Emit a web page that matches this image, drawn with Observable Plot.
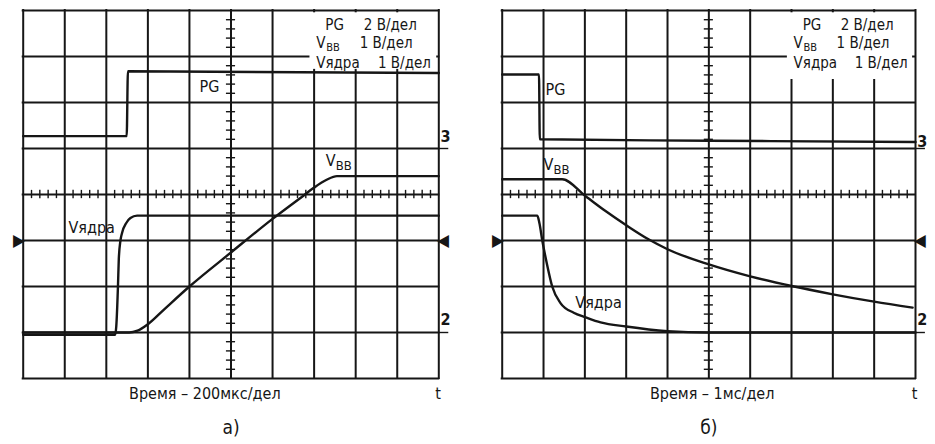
<!DOCTYPE html>
<html><head><meta charset="utf-8">
<script src="https://cdn.jsdelivr.net/npm/d3@7"></script>
<script src="https://cdn.jsdelivr.net/npm/@observablehq/plot@0.6"></script>
<style>
html,body{margin:0;padding:0;background:#fff;}
#wrap{position:relative;width:935px;height:444px;overflow:hidden;background:#fff;}
#wrap svg{position:absolute;top:0;}
</style></head><body><div id="wrap"></div>
<script>
// ---- data (time in divisions, voltage in divisions) ----
const gridX = [0,1,2,3,4,5,6,7,8,9,10];
const gridY = [-4,-3,-2,-1,0,1,2,3,4];
const legendNames = ["PG", "V", "Vядра"];
const legendSub = "BB";
const legendScales = ["2 В/дел", "1 В/дел", "1 В/дел"];

// panel а) 200 мкс/дел
const pgA   = [[0,1.27],[2.49,1.27],[2.52,2.68],[10,2.64]];
const vbbA  = [[0,-3.0],[2.55,-3.0],[2.75,-2.96],[3.0,-2.82],[3.4,-2.49],[4.0,-2.0],[5.0,-1.26],[6.0,-0.53],[6.75,-0.02],[7.0,0.15],[7.3,0.32],[7.55,0.40],[10,0.40]];
const coreA = [[0,-3.05],[2.21,-3.05],[2.24,-2.86],[2.28,-2.0],[2.30,-1.41],[2.34,-1.0],[2.38,-0.83],[2.48,-0.62],[2.58,-0.51],[2.74,-0.46],[10,-0.46]];
const captionA = "Время – 200мкс/дел";

// panel б) 1 мс/дел
const pgB   = [[0,2.61],[0.89,2.61],[0.91,1.2],[5.0,1.17],[10,1.14]];
const vbbB  = [[0,0.33],[1.45,0.33],[2.02,-0.04],[2.5,-0.36],[3.02,-0.68],[3.55,-0.98],[4.0,-1.19],[5.0,-1.52],[6.0,-1.78],[7.0,-1.99],[8.0,-2.17],[9.0,-2.33],[9.93,-2.46]];
const coreB = [[0,-0.46],[0.85,-0.46],[0.9,-0.62],[0.97,-1.0],[1.08,-1.5],[1.21,-2.0],[1.41,-2.36],[1.73,-2.57],[2.02,-2.67],[2.38,-2.78],[3.0,-2.87],[4.0,-2.97],[5.0,-3.0],[10,-3.0]];
const captionB = "Время – 1мс/дел";

const FONT = '"Liberation Sans Narrow","DejaVu Sans Condensed","Roboto Condensed",sans-serif';
const INK = "#161616";

function panel(o) {
  const minorX = d3.range(0, 10.001, 0.2).filter(v => Math.abs(v - Math.round(v)) > 1e-6);
  const minorY = d3.range(-4, 4.001, 0.2).filter(v => Math.abs(v - Math.round(v)) > 1e-6);
  const T = (txt, opt) => Plot.text([txt], {text: d => d, fill: INK, ...opt});
  const line = (data) => Plot.line(data, {x: d => d[0], y: d => d[1], curve: "monotone-x", stroke: INK, strokeWidth: 2.4, strokeLinejoin: "round"});
  const svg = Plot.plot({
    width: o.width, height: 444,
    marginLeft: o.mL, marginRight: o.mR, marginTop: 10, marginBottom: 66,
    x: {domain: [0, 10], axis: null},
    y: {domain: [-4, 4], axis: null},
    style: {fontFamily: FONT, background: "white", overflow: "visible"},
    marks: [
      Plot.ruleX(gridX, {stroke: INK, strokeWidth: 2, strokeLinecap: "square"}),
      Plot.ruleY(gridY, {stroke: INK, strokeWidth: 2, strokeLinecap: "square"}),
      Plot.ruleX(minorX, {y1: -0.09, y2: 0.09, stroke: INK, strokeWidth: 1.4}),
      Plot.ruleY(minorY, {x1: 4.89, x2: 5.11, stroke: INK, strokeWidth: 1.4}),
      // white patch behind the scale legend
      Plot.rect([0], {x1: 6.9, x2: o.maskX2, y1: o.maskY1, y2: 3.95, fill: "white"}),
      // channel markers
      Plot.ruleY([1, -3], {x1: 10, x2: 10.24, stroke: INK, strokeWidth: 1.4}),
      T("3", {x: 10.04, y: o.m3y, textAnchor: "start", fontSize: 16, fontWeight: "bold"}),
      T("2", {x: 10.04, y: -2.72, textAnchor: "start", fontSize: 16, fontWeight: "bold"}),
      T("▶", {x: 0, y: -1, textAnchor: "end", fontSize: 17, dx: 1.5}),
      T("◀", {x: 10, y: -1, textAnchor: "start", fontSize: 17, dx: -1.5}),
      // traces
      line(o.pg), line(o.vbb), line(o.core),
      // trace labels
      T("PG", {x: o.pgL[0], y: o.pgL[1], textAnchor: o.pgL[2], fontSize: 16}),
      T("V", {x: o.vbbL[0], y: o.vbbL[1], textAnchor: "start", fontSize: 16}),
      T(legendSub, {x: o.vbbL[0], dx: 10, y: o.vbbL[1] - 0.11, textAnchor: "start", fontSize: 13}),
      T("Vядра", {x: o.coreL[0], y: o.coreL[1], textAnchor: "start", fontSize: 16}),
      // scale legend
      T(legendNames[0], {x: 7.27, y: 3.68, textAnchor: "start", fontSize: 15}),
      T(legendNames[1], {x: 7.05, y: 3.29, textAnchor: "start", fontSize: 15}),
      T(legendSub, {x: 7.05, dx: 10, y: 3.19, textAnchor: "start", fontSize: 11}),
      T(legendNames[2], {x: 7.05, y: 2.86, textAnchor: "start", fontSize: 15}),
      T(legendScales[0], {x: 9.47, y: 3.68, textAnchor: "end", fontSize: 15}),
      T(legendScales[1], {x: 9.37, y: 3.29, textAnchor: "end", fontSize: 15}),
      T(legendScales[2], {x: 9.81, y: 2.86, textAnchor: "end", fontSize: 15}),
      // captions
      T(o.caption, {x: o.capX, y: -4.33, fontSize: 16}),
      T("t", {x: 9.98, y: -4.33, fontSize: 16}),
      T(o.letter, {x: 5, y: -5.07, fontSize: 19})
    ]
  });
  svg.style.left = o.left + "px";
  return svg;
}

const wrap = document.getElementById("wrap");
wrap.appendChild(panel({
  left: 0, width: 467, mL: 22.7, mR: 28.7,
  pg: pgA, vbb: vbbA, core: coreA,
  pgL: [4.72, 2.34, "end"], vbbL: [7.28, 0.73], coreL: [1.09, -0.73],
  maskX2: 9.95, maskY1: 2.72, m3y: 1.25,
  caption: captionA, capX: 4.37, letter: "а)"
}));
wrap.appendChild(panel({
  left: 467, width: 468, mL: 34.7, mR: 20,
  pg: pgB, vbb: vbbB, core: coreB,
  pgL: [1.05, 2.28, "start"], vbbL: [1.0, 0.65], coreL: [1.77, -2.35],
  maskX2: 9.93, maskY1: 2.5, m3y: 1.14,
  caption: captionB, capX: 5.08, letter: "б)"
}));
</script></body></html>
